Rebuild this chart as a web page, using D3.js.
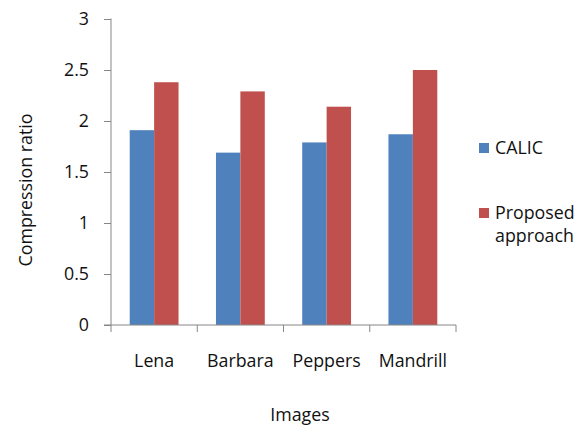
<!DOCTYPE html>
<html>
<head>
<meta charset="utf-8">
<script src="https://cdn.jsdelivr.net/npm/d3@7"></script>
<style>
  body { margin: 0; background: #fff; }
  svg text { font-family: "Open Sans", sans-serif; fill: #111; }
</style>
</head>
<body>
<svg id="chart" width="586" height="428"></svg>
<script>
// Compression ratio per test image
const categories = ["Lena", "Barbara", "Peppers", "Mandrill"];
const seriesNames = ["CALIC", "Proposed approach"];
const calic = [1.91, 1.69, 1.79, 1.87];
const proposed = [2.38, 2.29, 2.14, 2.50];
const yTicks = [0, 0.5, 1, 1.5, 2, 2.5, 3];
const colors = ["#4F81BD", "#C0504D"];

const fontSize = 17.8;
const svg = d3.select("#chart");
const plot = { left: 111, right: 456, top: 19, bottom: 325 };

const x = d3.scaleBand()
  .domain(categories)
  .range([plot.left, plot.right])
  .paddingInner(0.434)
  .paddingOuter(0.217);

const xInner = d3.scaleBand()
  .domain(seriesNames)
  .range([0, x.bandwidth()]);

const y = d3.scaleLinear().domain([0, 3]).range([plot.bottom, plot.top]);

const series = [calic, proposed];

// bars
const groups = svg.append("g")
  .selectAll("g")
  .data(categories)
  .join("g")
  .attr("transform", d => `translate(${x(d)},0)`);

groups.selectAll("rect")
  .data((d, i) => seriesNames.map((s, k) => ({ s, v: series[k][i], k })))
  .join("rect")
  .attr("x", d => xInner(d.s))
  .attr("width", xInner.bandwidth())
  .attr("y", d => y(d.v))
  .attr("height", d => y(0) - y(d.v))
  .attr("fill", d => colors[d.k]);

// y axis
const yAxis = svg.append("g")
  .attr("transform", `translate(${plot.left},0)`)
  .call(d3.axisLeft(y).tickValues(yTicks).tickSize(7).tickPadding(15)
    .tickFormat(d3.format("")));
yAxis.select(".domain").attr("stroke", "#868686").attr("d", `M0,${plot.top - 0.5}V${plot.bottom}`);
yAxis.selectAll(".tick line").attr("stroke", "#868686");
yAxis.selectAll(".tick text").attr("font-size", fontSize).attr("font-family", "Open Sans").attr("fill", "#111");

// x axis: ticks at band boundaries
const xAxisG = svg.append("g").attr("transform", `translate(0,${plot.bottom})`);
xAxisG.append("line")
  .attr("x1", plot.left - 7).attr("x2", plot.right)
  .attr("stroke", "#868686");
const boundaries = categories.map(c => x(c) - x.step() * x.paddingInner() / 2)
  .concat([plot.right]);
boundaries[0] = plot.left;
xAxisG.selectAll(".xt")
  .data(boundaries)
  .join("line")
  .attr("x1", d => d).attr("x2", d => d)
  .attr("y1", 0).attr("y2", 7)
  .attr("stroke", "#868686");
xAxisG.selectAll(".xl")
  .data(categories)
  .join("text")
  .attr("x", d => x(d) + x.bandwidth() / 2)
  .attr("y", 42)
  .attr("text-anchor", "middle")
  .attr("font-size", fontSize)
  .text(d => d);

// axis titles
svg.append("text")
  .attr("x", 300).attr("y", 421)
  .attr("text-anchor", "middle")
  .attr("font-size", fontSize)
  .text("Images");

svg.append("text")
  .attr("transform", "translate(32,190) rotate(-90)")
  .attr("text-anchor", "middle")
  .attr("font-size", fontSize)
  .text("Compression ratio");

// legend
const legend = svg.append("g");
const legendItems = [
  { lines: ["CALIC"], y: 154 },
  { lines: ["Proposed", "approach"], y: 219 }
];
legendItems.forEach((it, i) => {
  legend.append("rect")
    .attr("x", 479).attr("y", it.y - 11)
    .attr("width", 10).attr("height", 10)
    .attr("fill", colors[i]);
  it.lines.forEach((ln, j) => {
    legend.append("text")
      .attr("x", 495).attr("y", it.y + j * 23)
      .attr("font-size", fontSize)
      .text(ln);
  });
});
</script>
</body>
</html>
